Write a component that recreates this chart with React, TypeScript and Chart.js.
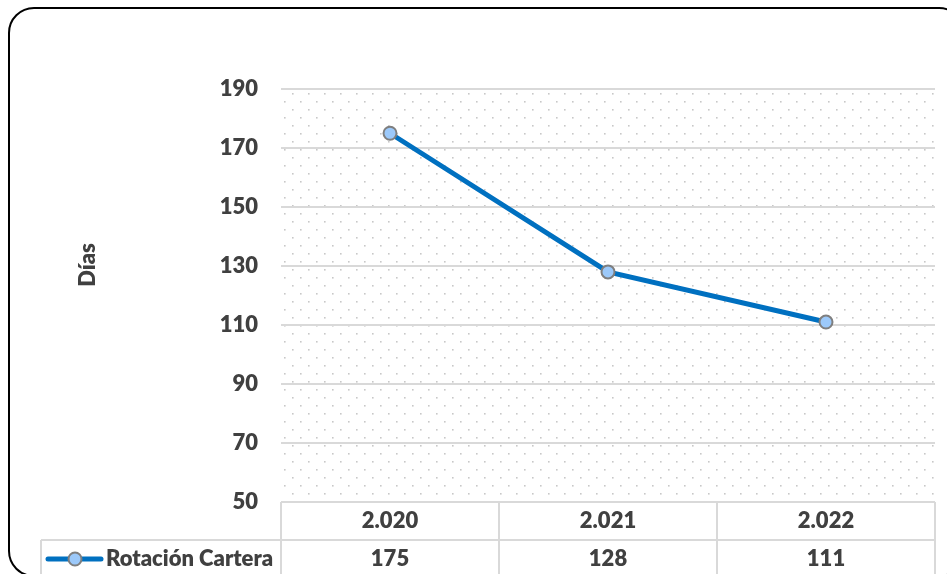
import { useEffect, useRef } from 'react';
import { Chart, registerables } from 'chart.js';

Chart.register(...registerables);

const categories = ['2.020', '2.021', '2.022'];
const rotacionCartera = [175, 128, 111];
const seriesName = 'Rotación Cartera';
const axisTitle = 'Días';
const yMin = 50;
const yMax = 190;
const yStep = 20;

const TEXT = '#404040';
const GRID = '#d9d9d9';
const LINE = '#0070C0';
const MARKER_FILL = '#9CC9FA';
const MARKER_BORDER = '#7f7f7f';
const FONT_FAMILY = 'Lato, "Open Sans", sans-serif';
const FONT_WEIGHT = 800;
const FONT_SIZE = 22;
const FONT = `${FONT_WEIGHT} ${FONT_SIZE}px ${FONT_FAMILY}`;

const W = 947;
const H = 574;

const decorPlugin = {
  id: 'decor',
  beforeDraw(chart: any) {
    const { ctx, chartArea: a } = chart;
    ctx.save();
    ctx.fillStyle = '#ffffff';
    ctx.fillRect(0, 0, chart.width, chart.height);
    ctx.fillStyle = '#c8c8c8';
    let row = 0;
    for (let y = a.top + 4; y < a.bottom - 1; y += 8, row++) {
      for (let x = a.left + 3 + (row % 2 ? 0 : 8); x < a.right - 1; x += 16) {
        ctx.fillRect(x, y, 1.6, 1.6);
      }
    }
    ctx.restore();
  },
  afterDraw(chart: any) {
    const { ctx, chartArea: a } = chart;
    const xs = chart.scales.x;
    const n = categories.length;
    const cw = (a.right - a.left) / n;
    const headerBottom = a.bottom + 38;
    const tableBottom = H + 10;
    const legendLeft = 41;

    ctx.save();
    ctx.strokeStyle = GRID;
    ctx.lineWidth = 2;
    ctx.beginPath();
    for (let i = 0; i <= n; i++) {
      const x = a.left + i * cw;
      ctx.moveTo(x, a.bottom);
      ctx.lineTo(x, tableBottom);
    }
    ctx.moveTo(a.left, a.bottom);
    ctx.lineTo(a.right, a.bottom);
    ctx.moveTo(legendLeft, headerBottom);
    ctx.lineTo(a.right, headerBottom);
    ctx.moveTo(legendLeft, headerBottom);
    ctx.lineTo(legendLeft, tableBottom);
    ctx.stroke();

    ctx.fillStyle = TEXT;
    ctx.font = FONT;
    ctx.textAlign = 'center';
    ctx.textBaseline = 'middle';
    const rowY1 = a.bottom + 19;
    const rowY2 = headerBottom + 19;
    categories.forEach((c, i) => {
      const x = xs.getPixelForValue(i);
      ctx.fillText(c, x, rowY1);
      ctx.fillText(String(rotacionCartera[i]), x, rowY2);
    });

    ctx.strokeStyle = LINE;
    ctx.lineWidth = 5;
    ctx.lineCap = 'round';
    ctx.beginPath();
    ctx.moveTo(48, rowY2);
    ctx.lineTo(101, rowY2);
    ctx.stroke();
    ctx.beginPath();
    ctx.arc(75, rowY2, 6.5, 0, Math.PI * 2);
    ctx.fillStyle = MARKER_FILL;
    ctx.fill();
    ctx.lineWidth = 2;
    ctx.strokeStyle = MARKER_BORDER;
    ctx.stroke();
    ctx.fillStyle = TEXT;
    ctx.textAlign = 'left';
    ctx.fillText(seriesName, 106, rowY2);

    ctx.save();
    ctx.translate(88, 265);
    ctx.rotate(-Math.PI / 2);
    ctx.textAlign = 'center';
    ctx.fillText(axisTitle, 0, 0);
    ctx.restore();

    ctx.strokeStyle = '#000000';
    ctx.lineWidth = 2;
    ctx.beginPath();
    (ctx as any).roundRect(9, 8, 955, 568, 25);
    ctx.stroke();
    ctx.restore();
  },
};

export default function App() {
  const ref = useRef<HTMLCanvasElement | null>(null);

  useEffect(() => {
    if (!ref.current) return;
    const chart = new Chart(ref.current, {
      type: 'line',
      data: {
        labels: categories,
        datasets: [
          {
            label: seriesName,
            data: rotacionCartera,
            borderColor: LINE,
            borderWidth: 5,
            pointRadius: 6.5,
            pointBackgroundColor: MARKER_FILL,
            pointBorderColor: MARKER_BORDER,
            pointBorderWidth: 2,
            tension: 0,
          },
        ],
      },
      options: {
        responsive: false,
        animation: false,
        layout: { padding: { top: 89, right: 12, bottom: 72, left: 0 } },
        plugins: {
          legend: { display: false },
          tooltip: { enabled: false },
        },
        scales: {
          x: { type: 'category', display: false, offset: true },
          y: {
            min: yMin,
            max: yMax,
            ticks: {
              stepSize: yStep,
              padding: 23,
              color: TEXT,
              font: { family: FONT_FAMILY, size: FONT_SIZE, weight: FONT_WEIGHT },
            },
            grid: { color: GRID, lineWidth: 2, drawTicks: false },
            border: { display: false },
            afterFit(scale: any) {
              scale.width = 281;
            },
          },
        },
      },
      plugins: [decorPlugin],
    } as any);
    return () => chart.destroy();
  }, []);

  return (
    <div style={{ position: 'absolute', left: 0, top: 0, width: W, height: H, overflow: 'hidden' }}>
      <canvas ref={ref} width={W} height={H} />
    </div>
  );
}
